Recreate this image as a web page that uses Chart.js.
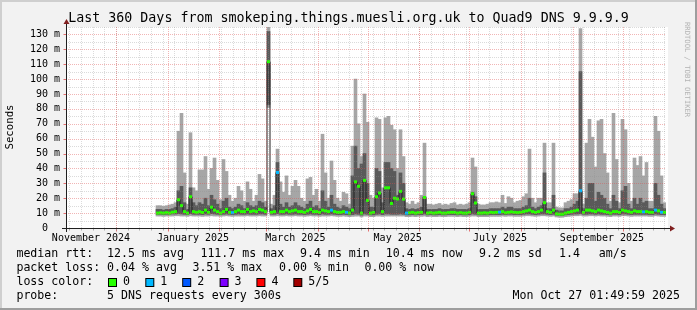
<!DOCTYPE html>
<html>
<head>
<meta charset="utf-8">
<script src="https://cdn.jsdelivr.net/npm/chart.js@4/dist/chart.umd.min.js"></script>
<style>
  html, body { margin: 0; padding: 0; background: #f2f2f2; }
  canvas { display: block; }
</style>
</head>
<body>
<canvas id="smoke" width="697" height="310"></canvas>
<script>
// samples: days since Nov 1 2024 01:50, one every 1.8 days
const startDay = 54.9, stepDays = 1.8;

// sorted pings per sample (ms): lo = fastest, hi = slowest
const hi = [
  15, 15, 14.5, 15, 15.5, 16, 17, 65, 77, 37,
  16, 64, 27, 25, 39, 39, 48, 26, 40, 47,
  32, 19, 46, 38, 22, 18, 20, 28, 25, 18,
  31, 26, 18, 22, 36, 33, 18, 135, 16, 22,
  53, 31, 24, 35, 22, 28, 32, 28, 20, 18,
  33, 34, 22, 26, 18, 63, 37, 20, 45, 32,
  20, 18, 24, 23, 16, 55, 100, 70, 48, 90,
  71, 22, 20, 74, 73, 27, 74, 75, 69, 66,
  40, 66, 48, 17, 16, 18, 16, 17, 22, 57,
  16, 16, 15.5, 16, 16.5, 15.5, 16, 15.5, 16.5, 17,
  15.5, 16, 15.5, 16, 17, 47, 41, 16, 15.5, 15.5,
  16, 17, 17, 17.5, 17, 22, 16.5, 21, 20, 17,
  18, 18.5, 21, 23, 53, 20, 17, 20, 20, 57,
  17, 17, 57, 14, 13.5, 13.5, 17, 18, 19, 23,
  23, 134, 16, 57, 73, 61, 41, 72, 73, 50,
  37, 18, 77, 46, 17, 73, 66, 30, 18, 47,
  42, 48, 35, 44, 18, 18, 75, 65, 35, 17
];
const up = [
  12.5, 12.5, 12, 12.5, 12.5, 13, 14, 25, 28, 17,
  12.5, 27, 17, 15, 17, 16, 20, 15, 22, 19,
  16, 13, 18, 20, 14, 13, 14, 16, 15, 13,
  17, 15, 14, 15, 18, 17, 14, 132, 13, 15,
  44, 16, 14, 17, 14, 15, 17, 15, 14, 13,
  16, 18, 14, 15, 13, 25, 18, 14, 22, 16,
  14, 13, 15, 14, 13, 35, 55, 40, 43, 50,
  30, 14, 14, 40, 38, 17, 44, 44, 40, 38,
  22, 37, 30, 13, 12.5, 13, 12.5, 13, 14, 21,
  12.5, 12.5, 12.5, 12.5, 13, 12.5, 12.5, 12.5, 13, 13,
  12.5, 12.5, 12.5, 12.5, 13, 24, 21, 12.5, 12.5, 12.5,
  12.5, 13, 13, 13, 13, 14, 13, 14, 14, 13,
  13, 13, 14, 15, 20, 14, 13, 14, 15, 37,
  13, 13, 22, 12, 11.5, 11.5, 13, 13, 14, 16,
  18, 105, 13, 20, 30, 30, 18, 24, 22, 20,
  16, 13, 22, 18, 13, 25, 28, 16, 13, 20,
  16, 20, 17, 18, 13, 13, 30, 22, 16, 13
];
const med = [
  10, 10.2, 10, 10.3, 10, 10.6, 11, 19, 15, 11,
  10, 21, 11, 10.5, 11, 10.4, 12, 10.5, 14, 12,
  11, 10, 11, 12.5, 10.5, 10.3, 11, 12, 11, 11,
  12.5, 11, 11.5, 11, 12.5, 12, 11, 111.7, 10.5, 11,
  37.3, 11, 11, 12, 11, 11.5, 12, 11, 11, 10.5,
  11.5, 12.5, 11, 11, 10.5, 12, 11.5, 11, 12, 11,
  10.5, 10.5, 11, 10.5, 10, 12, 31, 28, 10, 32,
  18.5, 10, 10.5, 21, 23.5, 11, 27, 27, 16.5, 20,
  19.5, 24.6, 19.4, 10, 10.2, 10.5, 10, 10.3, 10.5, 20.5,
  10, 10.3, 10, 10.2, 10.5, 10, 10, 10.3, 10.5, 10.5,
  10, 10.3, 10, 10, 10.5, 23, 16.8, 10, 10, 10.2,
  10, 10.5, 10.3, 10.5, 10.6, 11, 10.2, 10.5, 10.8, 10.5,
  10.3, 10.5, 11, 11.5, 12, 11, 10.5, 11, 12, 17,
  11, 10.5, 12, 9.5, 9.3, 9.3, 10, 10.5, 11, 11.5,
  12, 25, 10.5, 12, 12, 11.5, 11, 12, 11.5, 11,
  10.5, 10, 11, 11, 10.5, 12, 11.5, 11, 10.5, 11.5,
  11, 11, 10.8, 11, 10.5, 10.5, 12, 11.5, 10.5, 10.5
];
const dn = [
  9.2, 9.2, 9, 9.2, 9.2, 9.4, 9.4, 9.6, 9.4, 9.2,
  9, 9.6, 9.2, 9.2, 9.2, 9, 9.4, 9.2, 9.6, 9.4,
  9.2, 9, 9.2, 9.4, 9.2, 9, 9.2, 9.4, 9.2, 9.2,
  9.4, 9.2, 9.2, 9.2, 9.4, 9.4, 9.2, 83, 9.2, 9.2,
  9.6, 9.2, 9.2, 9.4, 9.2, 9.2, 9.4, 9.2, 9.2, 9,
  9.2, 9.4, 9.2, 9.2, 9, 9.4, 9.2, 9.2, 9.4, 9.2,
  9, 9, 9.2, 9, 8.8, 9, 9.4, 9.2, 8.6, 9.4,
  9.2, 8.8, 8.8, 9.2, 9.4, 9, 9.4, 9.4, 9.2, 9.2,
  9.2, 9.4, 9.2, 8.8, 8.8, 9, 8.8, 9, 9, 9.4,
  8.8, 9, 8.8, 8.8, 9, 8.8, 8.8, 9, 9, 9,
  8.8, 9, 8.8, 8.8, 9, 9.4, 9.2, 8.8, 8.8, 8.8,
  8.8, 9, 9, 9, 9, 9.2, 9, 9.2, 9.2, 9,
  9, 9, 9.2, 9.4, 9.4, 9.2, 9, 9.2, 9.4, 9.4,
  9.2, 9, 9.2, 8.6, 8.4, 8.4, 8.8, 9, 9.2, 9.4,
  9.4, 9.6, 9.2, 9.2, 9.4, 9.4, 9.2, 9.4, 9.2, 9.2,
  9, 8.8, 9.2, 9.2, 9, 9.4, 9.4, 9.2, 9, 9.2,
  9.2, 9.2, 9.2, 9.2, 9, 9, 9.4, 9.2, 9, 9
];
const lo = [
  8, 8, 7.8, 8, 8, 8, 8.2, 8.2, 8, 8,
  7.8, 8.2, 8, 8, 8, 7.8, 8, 8, 8.2, 8,
  8, 7.8, 8, 8.2, 8, 7.8, 8, 8, 8, 8,
  8.2, 8, 8, 8, 8.2, 8, 8, 81, 8, 8,
  8.2, 8, 8, 8.2, 8, 8, 8.2, 8, 8, 7.8,
  8, 8.2, 8, 8, 7.8, 8, 8, 8, 8.2, 8,
  7.8, 7.8, 8, 7.8, 7.6, 7.8, 8, 8, 7.4, 8,
  8, 7.6, 7.6, 8, 8, 7.8, 8, 8, 8, 8,
  8, 8, 8, 7.6, 7.6, 7.8, 7.6, 7.8, 7.8, 8,
  7.6, 7.8, 7.6, 7.6, 7.8, 7.6, 7.6, 7.8, 7.8, 7.8,
  7.6, 7.8, 7.6, 7.6, 7.8, 8, 8, 7.6, 7.6, 7.6,
  7.6, 7.8, 7.8, 7.8, 7.8, 8, 7.8, 8, 8, 7.8,
  7.8, 7.8, 8, 8.2, 8.2, 8, 7.8, 8, 8.2, 8.2,
  8, 7.8, 8, 7.4, 7.2, 7.2, 7.6, 7.8, 8, 8.2,
  8.2, 8.4, 8, 8, 8.2, 8.2, 8, 8.2, 8, 8,
  7.8, 7.6, 8, 8, 7.8, 8.2, 8.2, 8, 7.8, 8,
  8, 8, 8, 8, 7.8, 7.8, 8.2, 8, 7.8, 7.8
];
// lost pings per sample (out of 5)
const loss = [
  0, 0, 0, 0, 0, 0, 0, 0, 0, 0,
  0, 0, 0, 0, 0, 0, 0, 0, 0, 0,
  0, 0, 0, 0, 0, 1, 0, 0, 0, 0,
  0, 0, 0, 0, 0, 0, 0, 0, 0, 0,
  1, 0, 0, 0, 0, 0, 0, 0, 0, 0,
  0, 0, 0, 0, 0, 0, 0, 0, 1, 0,
  0, 0, 0, 1, 0, 0, 0, 0, 0, 0,
  0, 0, 0, 0, 0, 0, 0, 0, 0, 0,
  0, 0, 0, 1, 0, 0, 0, 0, 0, 0,
  0, 0, 0, 0, 0, 0, 0, 0, 0, 0,
  0, 0, 0, 0, 0, 0, 0, 0, 0, 0,
  0, 0, 0, 0, 1, 0, 0, 0, 0, 0,
  0, 0, 0, 0, 0, 0, 0, 0, 0, 0,
  0, 0, 0, 0, 0, 0, 0, 0, 0, 0,
  0, 1, 0, 0, 0, 0, 0, 0, 0, 0,
  0, 0, 0, 0, 0, 0, 0, 0, 0, 0,
  0, 0, 1, 0, 0, 0, 1, 0, 1, 0
];

// axis labels
const yTicks = [0, 10, 20, 30, 40, 50, 60, 70, 80, 90, 100, 110, 120, 130];
const xLabelDays = [15, 76.2, 137.6, 199, 260.4, 321.6];
const xLabelNames = ['November 2024', 'January 2025', 'March 2025', 'May 2025', 'July 2025', 'September 2025'];
const monthStartDays = [29.92, 60.92, 91.92, 119.92, 150.92, 180.92, 211.92, 241.92, 272.92, 303.92, 333.92];
const firstSunday = 1.92;

const lossColors = ['#26ff00', '#00b8ff', '#0059ff', '#7e00ff', '#ff0000', '#a10000'];
const lossNames = ['0', '1', '2', '3', '4', '5/5'];

const title = 'Last 360 Days from smokeping.things.muesli.org.uk to Quad9 DNS 9.9.9.9';
const rttLine = [['median rtt:', 16.4], ['12.5 ms avg', 107.1], ['111.7 ms max', 200.4], ['9.4 ms min', 300],
                 ['10.4 ms now', 385.8], ['9.2 ms sd', 479], ['1.4', 559], ['am/s', 598.7]];
const lossLine = [['packet loss:', 16.4], ['0.04 % avg', 107.1], ['3.51 % max', 192.4], ['0.00 % min', 279.1], ['0.00 % now', 364.4]];
const colorBoxX = [108, 145.3, 182.2, 219.6, 256.4, 293.3];
const probeText = '5 DNS requests every 300s';
const stampText = 'Mon Oct 27 01:49:59 2025';

const days = hi.map((_, i) => startDay + i * stepDays);
const mono = '"DejaVu Sans Mono", "Liberation Mono", monospace';
const minorGrid = 'rgba(143,143,143,0.32)';
const majorGrid = 'rgba(222,79,79,0.42)';

// background, grid, axes and legend the rrdtool way
const rrdLook = {
  id: 'rrdLook',
  beforeDraw(chart) {
    const { ctx, chartArea: a } = chart;
    ctx.save();
    ctx.fillStyle = '#f2f2f2';
    ctx.fillRect(0, 0, 697, 310);
    ctx.fillStyle = '#cfcfcf';
    ctx.fillRect(0, 0, 697, 2);
    ctx.fillRect(0, 0, 2, 310);
    ctx.fillStyle = '#9e9e9e';
    ctx.fillRect(0, 308, 697, 2);
    ctx.fillRect(695, 0, 2, 310);
    ctx.fillStyle = '#ffffff';
    ctx.fillRect(a.left, a.top, a.right - a.left + 2, a.bottom - a.top);
    ctx.restore();
  },
  afterDatasetsDraw(chart) {
    const { ctx, chartArea: a, scales: { x, y } } = chart;
    ctx.save();
    ctx.lineWidth = 1;
    ctx.setLineDash([1, 1]);
    // horizontal grid every 5 m, major every 10
    for (let v = 5; v <= 135; v += 5) {
      const py = Math.round(y.getPixelForValue(v)) + 0.5;
      ctx.strokeStyle = v % 10 === 0 ? majorGrid : minorGrid;
      ctx.beginPath();
      ctx.moveTo(a.left, py);
      ctx.lineTo(a.right, py);
      ctx.stroke();
    }
    // weekly minor lines
    ctx.strokeStyle = minorGrid;
    for (let d = firstSunday; d < 360; d += 7) {
      const px = Math.round(x.getPixelForValue(d)) + 0.5;
      ctx.beginPath();
      ctx.moveTo(px, a.top);
      ctx.lineTo(px, a.bottom);
      ctx.stroke();
    }
    // month starts
    ctx.strokeStyle = majorGrid;
    monthStartDays.forEach(d => {
      const px = Math.round(x.getPixelForValue(d)) + 0.5;
      ctx.beginPath();
      ctx.moveTo(px, a.top);
      ctx.lineTo(px, a.bottom);
      ctx.stroke();
    });
    ctx.restore();
  },
  afterDraw(chart) {
    const { ctx, chartArea: a, scales: { x, y } } = chart;
    const bottom = a.bottom + 0.5;
    const left = a.left + 0.5;
    ctx.save();

    // tick marks
    ctx.lineWidth = 1;
    ctx.strokeStyle = 'rgba(222,79,79,0.8)';
    monthStartDays.forEach(d => {
      const px = Math.round(x.getPixelForValue(d)) + 0.5;
      ctx.beginPath();
      ctx.moveTo(px, bottom);
      ctx.lineTo(px, bottom + 3);
      ctx.stroke();
    });
    ctx.strokeStyle = 'rgba(143,143,143,0.7)';
    for (let d = firstSunday; d < 360; d += 7) {
      const px = Math.round(x.getPixelForValue(d)) + 0.5;
      ctx.beginPath();
      ctx.moveTo(px, bottom);
      ctx.lineTo(px, bottom + 2);
      ctx.stroke();
    }
    ctx.strokeStyle = 'rgba(222,79,79,0.8)';
    yTicks.forEach(v => {
      const py = Math.round(y.getPixelForValue(v)) + 0.5;
      ctx.beginPath();
      ctx.moveTo(left - 3, py);
      ctx.lineTo(left, py);
      ctx.stroke();
    });

    // axes with arrows
    ctx.strokeStyle = '#1f1f1f';
    ctx.beginPath();
    ctx.moveTo(a.left - 4, bottom);
    ctx.lineTo(a.right + 5, bottom);
    ctx.moveTo(left, a.bottom + 4);
    ctx.lineTo(left, a.top - 4);
    ctx.stroke();
    ctx.fillStyle = '#801f1f';
    ctx.beginPath();
    ctx.moveTo(a.right + 4, bottom - 3);
    ctx.lineTo(a.right + 9, bottom);
    ctx.lineTo(a.right + 4, bottom + 3);
    ctx.fill();
    ctx.beginPath();
    ctx.moveTo(left - 3, a.top - 3);
    ctx.lineTo(left, a.top - 8);
    ctx.lineTo(left + 3, a.top - 3);
    ctx.fill();

    // title
    ctx.fillStyle = '#000';
    ctx.textBaseline = 'middle';
    ctx.textAlign = 'center';
    ctx.font = '13.3px ' + mono;
    ctx.fillText(title, 348.5, 18.5);

    // y axis title
    ctx.save();
    ctx.translate(10.5, 127);
    ctx.rotate(-Math.PI / 2);
    ctx.font = '10.7px ' + mono;
    ctx.fillText('Seconds', 0, 0);
    ctx.restore();

    // watermark
    ctx.save();
    ctx.translate(686.5, 22);
    ctx.rotate(Math.PI / 2);
    ctx.textAlign = 'left';
    ctx.fillStyle = '#b4b4b4';
    ctx.font = '7.2px ' + mono;
    ctx.fillText('RRDTOOL / TOBI OETIKER', 0, 0);
    ctx.restore();

    // legend block
    ctx.textAlign = 'left';
    ctx.font = '11.6px ' + mono;
    rttLine.forEach(([t, px]) => ctx.fillText(t, px, 254));
    lossLine.forEach(([t, px]) => ctx.fillText(t, px, 268));
    ctx.fillText('loss color:', 16.4, 282);
    colorBoxX.forEach((bx, i) => {
      ctx.fillStyle = '#000';
      ctx.fillRect(bx, 278, 9, 9);
      ctx.fillStyle = lossColors[i];
      ctx.fillRect(bx + 1, 279, 7, 7);
      ctx.fillStyle = '#000';
      ctx.fillText(lossNames[i], bx + 15, 282);
    });
    ctx.fillText('probe:', 16.4, 296);
    ctx.fillText(probeText, 107.1, 296);
    ctx.textAlign = 'right';
    ctx.fillText(stampText, 680, 296);
    ctx.restore();
  }
};

new Chart(document.getElementById('smoke'), {
  type: 'bar',
  data: {
    datasets: [
      {
        // outer smoke: fastest to slowest ping
        data: days.map((d, i) => ({ x: d, y: [lo[i], hi[i]] })),
        backgroundColor: '#a6a6a6',
        borderWidth: 0,
        grouped: false,
        barPercentage: 1,
        categoryPercentage: 1,
        order: 4
      },
      {
        // inner smoke: 2nd to 4th ping
        data: days.map((d, i) => ({ x: d, y: [dn[i], up[i]] })),
        backgroundColor: '#5a5a5a',
        borderWidth: 0,
        grouped: false,
        barPercentage: 1,
        categoryPercentage: 1,
        order: 3
      },
      {
        type: 'line',
        data: days.map((d, i) => ({ x: d, y: med[i] })),
        stepped: 'middle',
        borderColor: '#202020',
        borderWidth: 1,
        pointRadius: 0,
        fill: false,
        order: 2
      },
      {
        type: 'line',
        data: days.map((d, i) => ({ x: d, y: med[i] })),
        showLine: false,
        pointStyle: 'line',
        pointRadius: 1.5,
        pointBorderWidth: 3,
        pointBorderColor: ctx => lossColors[loss[ctx.dataIndex]],
        pointBackgroundColor: ctx => lossColors[loss[ctx.dataIndex]],
        order: 1
      }
    ]
  },
  options: {
    responsive: false,
    animation: false,
    events: [],
    layout: { padding: { top: 27, right: 31, left: 0, bottom: 0 } },
    plugins: { legend: { display: false }, tooltip: { enabled: false } },
    scales: {
      x: {
        type: 'linear',
        offset: false,
        min: 0,
        max: 360,
        grid: { display: false, offset: false, drawTicks: false },
        border: { display: false },
        afterBuildTicks: scale => { scale.ticks = xLabelDays.map(v => ({ value: v })); },
        afterFit: scale => { scale.height = 82; },
        ticks: {
          autoSkip: false,
          maxRotation: 0,
          padding: 4,
          color: '#000',
          font: { family: mono, size: 10 },
          callback: (v, i) => xLabelNames[i]
        }
      },
      y: {
        min: 0,
        max: 135,
        grid: { display: false, drawTicks: false },
        border: { display: false },
        afterBuildTicks: scale => { scale.ticks = yTicks.map(v => ({ value: v })); },
        afterFit: scale => { scale.width = 66; },
        ticks: {
          padding: 6,
          color: '#000',
          font: { family: mono, size: 10 },
          callback: v => (v === 0 ? '0  ' : v + ' m')
        }
      }
    }
  },
  plugins: [rrdLook]
});
</script>
</body>
</html>
